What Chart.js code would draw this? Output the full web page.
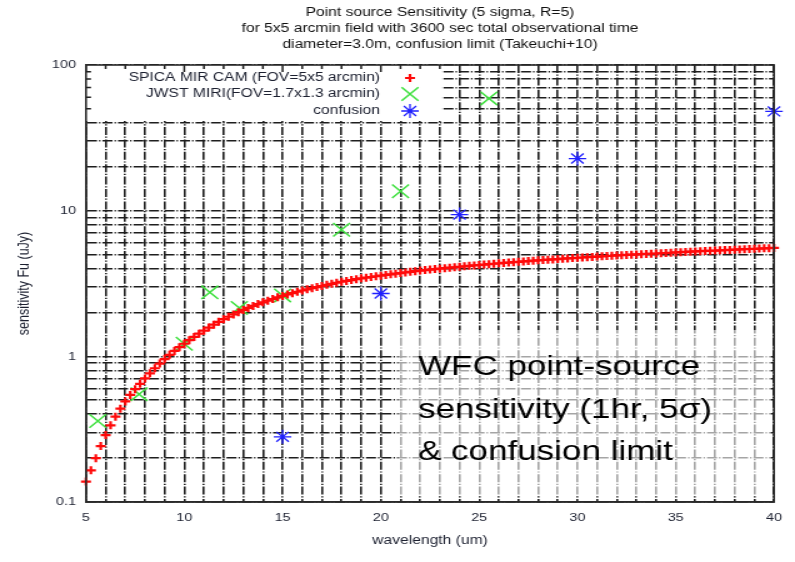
<!DOCTYPE html>
<html>
<head>
<meta charset="utf-8">
<script src="https://cdn.jsdelivr.net/npm/chart.js@4.4.1/dist/chart.umd.min.js"></script>
<style>
  html, body { margin: 0; padding: 0; background: #fff; }
  /* the source slide is stretched sideways, so draw narrow and stretch */
  #wrap { width: 636px; height: 562px; transform: scaleX(1.25); transform-origin: 0 0; }
</style>
</head>
<body>
<div id="wrap"><canvas id="chart" width="636" height="562"></canvas></div>
<script>
const FONT = "'Liberation Sans', Arial, sans-serif";
const TEXT = '#1c2030';
const GRID = '#1e1e1e';

const titleLines = [
  'Point source Sensitivity (5 sigma, R=5)',
  'for 5x5 arcmin field with 3600 sec total observational time',
  'diameter=3.0m, confusion limit (Takeuchi+10)'
];
const legendLabels = ['SPICA MIR CAM (FOV=5x5 arcmin)', 'JWST MIRI(FOV=1.7x1.3 arcmin)', 'confusion'];
const noteLines = ['WFC point-source', 'sensitivity (1hr, 5\u03c3)', '& confusion limit'];

// ticks
const xTickLabels = [5, 10, 15, 20, 25, 30, 35, 40];
const yGridValues = [0.1, 0.2, 0.3, 0.4, 0.5, 0.6, 0.7, 0.8, 0.9,
  1, 2, 3, 4, 5, 6, 7, 8, 9, 10, 20, 30, 40, 50, 60, 70, 80, 90, 100];
const yTickLabels = [0.1, 1, 10, 100];

// SPICA MIR CAM curve (uJy)
const spicaWave = [
  5, 5.25, 5.5, 5.75, 6, 6.25, 6.5, 6.75, 7, 7.25, 7.5, 7.75, 8, 8.25, 8.5, 8.75, 9, 9.25, 9.5, 9.75,
  10, 10.25, 10.5, 10.75, 11, 11.25, 11.5, 11.75, 12, 12.25, 12.5, 12.75, 13, 13.25, 13.5, 13.75,
  14, 14.25, 14.5, 14.75, 15, 15.25, 15.5, 15.75, 16, 16.25, 16.5, 16.75, 17, 17.25, 17.5, 17.75,
  18, 18.25, 18.5, 18.75, 19, 19.25, 19.5, 19.75, 20, 20.25, 20.5, 20.75, 21, 21.25, 21.5, 21.75,
  22, 22.25, 22.5, 22.75, 23, 23.25, 23.5, 23.75, 24, 24.25, 24.5, 24.75, 25, 25.25, 25.5, 25.75,
  26, 26.25, 26.5, 26.75, 27, 27.25, 27.5, 27.75, 28, 28.25, 28.5, 28.75, 29, 29.25, 29.5, 29.75,
  30, 30.25, 30.5, 30.75, 31, 31.25, 31.5, 31.75, 32, 32.25, 32.5, 32.75, 33, 33.25, 33.5, 33.75,
  34, 34.25, 34.5, 34.75, 35, 35.25, 35.5, 35.75, 36, 36.25, 36.5, 36.75, 37, 37.25, 37.5, 37.75,
  38, 38.25, 38.5, 38.75, 39, 39.25, 39.5, 39.75, 40
];
const spicaSens = [
  0.138, 0.165, 0.200, 0.242, 0.288, 0.336, 0.385, 0.437, 0.490, 0.543, 0.595, 0.648, 0.705, 0.765, 0.828, 0.892, 0.958, 1.024, 1.090, 1.155,
  1.22, 1.29, 1.36, 1.43, 1.50, 1.575, 1.65, 1.725, 1.80, 1.87, 1.94, 2.01, 2.08, 2.15, 2.22, 2.285,
  2.35, 2.41, 2.475, 2.54, 2.60, 2.66, 2.715, 2.775, 2.83, 2.885, 2.935, 2.99, 3.04, 3.095, 3.145, 3.20,
  3.25, 3.295, 3.34, 3.385, 3.43, 3.47, 3.505, 3.545, 3.58, 3.62, 3.655, 3.695, 3.73, 3.77, 3.805, 3.845,
  3.88, 3.91, 3.94, 3.97, 4.00, 4.03, 4.06, 4.09, 4.12, 4.15, 4.18, 4.205, 4.235, 4.265, 4.29, 4.32,
  4.35, 4.375, 4.40, 4.43, 4.455, 4.48, 4.51, 4.535, 4.56, 4.585, 4.61, 4.63, 4.655, 4.68, 4.70, 4.725,
  4.75, 4.77, 4.795, 4.815, 4.84, 4.86, 4.885, 4.905, 4.93, 4.95, 4.97, 4.985, 5.005, 5.025, 5.045, 5.06,
  5.08, 5.10, 5.12, 5.14, 5.165, 5.185, 5.205, 5.23, 5.25, 5.27, 5.29, 5.305, 5.325, 5.345, 5.36, 5.38,
  5.40, 5.42, 5.44, 5.455, 5.475, 5.495, 5.515, 5.53, 5.55
];

// JWST MIRI filters
const jwstWave = [5.6, 7.7, 10.0, 11.3, 12.8, 15.0, 18.0, 21.0, 25.5];
const jwstSens = [0.36, 0.55, 1.22, 2.75, 2.15, 2.62, 7.4, 13.6, 59];

// confusion limit
const confWave = [15, 20, 24, 30, 40];
const confSens = [0.28, 2.7, 9.4, 22.8, 48];

const toPoints = (xs, ys) => xs.map((x, i) => ({ x, y: ys[i] }));

const styles = [
  { pointStyle: 'cross', r: 4, color: '#ff0a0a', w: 2.2 },
  { pointStyle: 'crossRot', r: 9.5, color: '#3fe03f', w: 1.5 },
  { pointStyle: 'star', r: 7, color: '#1f1fff', w: 1.3 }
];

function mark(ctx, s, x, y) {
  ctx.save();
  ctx.strokeStyle = s.color;
  ctx.lineWidth = s.w;
  ctx.beginPath();
  const d = s.r * Math.SQRT1_2;
  if (s.pointStyle !== 'crossRot') {
    ctx.moveTo(x - s.r, y); ctx.lineTo(x + s.r, y);
    ctx.moveTo(x, y - s.r); ctx.lineTo(x, y + s.r);
  }
  if (s.pointStyle !== 'cross') {
    ctx.moveTo(x - d, y - d); ctx.lineTo(x + d, y + d);
    ctx.moveTo(x - d, y + d); ctx.lineTo(x + d, y - d);
  }
  ctx.stroke();
  ctx.restore();
}

const keyRight = 284.8;   // width of the key box
const keyBottom = 121;

const framePlugin = {
  id: 'frame',
  beforeDatasetsDraw(chart) {
    const { ctx, chartArea: a, scales: { x, y } } = chart;
    ctx.save();
    // key box hides the grid
    ctx.fillStyle = '#fff';
    ctx.fillRect(a.left, a.top, keyRight, keyBottom - a.top);
    // inward border ticks inside the key
    ctx.strokeStyle = GRID;
    ctx.lineWidth = 1.5;
    ctx.beginPath();
    x.ticks.forEach(t => {
      const px = x.getPixelForValue(t.value);
      if (px < a.left + keyRight) {
        const len = xTickLabels.includes(t.value) ? 7 : 4;
        ctx.moveTo(px, a.top); ctx.lineTo(px, a.top + len);
      }
    });
    yGridValues.forEach(v => {
      const py = y.getPixelForValue(v);
      if (py < keyBottom && py > a.top) {
        const len = yTickLabels.includes(v) ? 7 : 4;
        ctx.moveTo(a.left, py); ctx.lineTo(a.left + len, py);
      }
    });
    ctx.stroke();
    // light veil behind the note
    ctx.fillStyle = 'rgba(255,255,255,0.6)';
    ctx.fillRect(318.4, 330, a.right - 2.4 - 318.4, 495 - 330);
    ctx.restore();
  },
  afterDraw(chart) {
    const { ctx, chartArea: a } = chart;
    ctx.save();
    // box round the plot
    ctx.strokeStyle = '#2a2a2a';
    ctx.lineWidth = 1.6;
    ctx.strokeRect(a.left, a.top, a.right - a.left, a.bottom - a.top);

    // key
    ctx.font = '12.5px ' + FONT;
    ctx.fillStyle = TEXT;
    ctx.textAlign = 'right';
    ctx.textBaseline = 'middle';
    const keyY = [78, 94, 111];
    legendLabels.forEach((t, i) => {
      ctx.fillText(t, 304, keyY[i]);
      mark(ctx, styles[i], 328, keyY[i]);
    });

    // title
    ctx.textAlign = 'center';
    ctx.fillStyle = '#111';
    titleLines.forEach((t, i) => ctx.fillText(t, 352, 13 + i * 16));

    // note
    ctx.font = '28px ' + FONT;
    ctx.fillStyle = '#000';
    ctx.textAlign = 'left';
    ctx.textBaseline = 'alphabetic';
    noteLines.forEach((t, i) => ctx.fillText(t, 334.4, 375 + i * 42.5));
    ctx.restore();
  }
};

const ctx = document.getElementById('chart');
new Chart(ctx, {
  type: 'scatter',
  data: {
    datasets: [
      [spicaWave, spicaSens], [jwstWave, jwstSens], [confWave, confSens]
    ].map(([xs, ys], i) => ({
      label: legendLabels[i],
      data: toPoints(xs, ys),
      pointStyle: styles[i].pointStyle,
      pointRadius: styles[i].r,
      pointHoverRadius: styles[i].r,
      pointBorderColor: styles[i].color,
      pointBackgroundColor: styles[i].color,
      pointBorderWidth: styles[i].w,
      showLine: false,
      clip: false
    }))
  },
  options: {
    responsive: false,
    animation: false,
    devicePixelRatio: 1,
    layout: { padding: { top: 65, right: 16.8, bottom: 0, left: 0 } },
    plugins: {
      legend: { display: false },
      tooltip: { enabled: false },
      title: { display: false }
    },
    scales: {
      x: {
        type: 'linear',
        min: 5,
        max: 40,
        afterFit: s => { s.height = 60; },
        ticks: {
          stepSize: 1,
          autoSkip: false,
          maxRotation: 0,
          padding: 9,
          color: TEXT,
          font: { family: FONT, size: 11.5 },
          callback: v => xTickLabels.includes(v) ? String(v) : ''
        },
        grid: { color: GRID, lineWidth: 1.6, drawTicks: false },
        border: { display: true, color: '#2a2a2a', width: 1.6, dash: [8, 1.6, 1.2, 1.6] },
        title: {
          display: true,
          text: 'wavelength (um)',
          color: TEXT,
          font: { family: FONT, size: 12.5 },
          padding: { top: 0, bottom: 13.5 }
        }
      },
      y: {
        type: 'logarithmic',
        min: 0.1,
        max: 100,
        afterFit: s => { s.width = 68.8; },
        afterBuildTicks: s => { s.ticks = yGridValues.map(v => ({ value: v })); },
        ticks: {
          autoSkip: false,
          padding: 8,
          color: TEXT,
          font: { family: FONT, size: 11.5 },
          callback: v => yTickLabels.includes(v) ? String(v) : ''
        },
        grid: { color: GRID, lineWidth: 1.6, drawTicks: false },
        border: { display: true, color: '#2a2a2a', width: 1.6, dash: [8, 1.6, 1.2, 1.6] },
        title: {
          display: true,
          text: 'sensitivity Fu (uJy)',
          color: TEXT,
          font: { family: FONT, size: 12.5 },
          padding: { top: 12.5, bottom: 0 }
        }
      }
    }
  },
  plugins: [framePlugin]
});
</script>
</body>
</html>
